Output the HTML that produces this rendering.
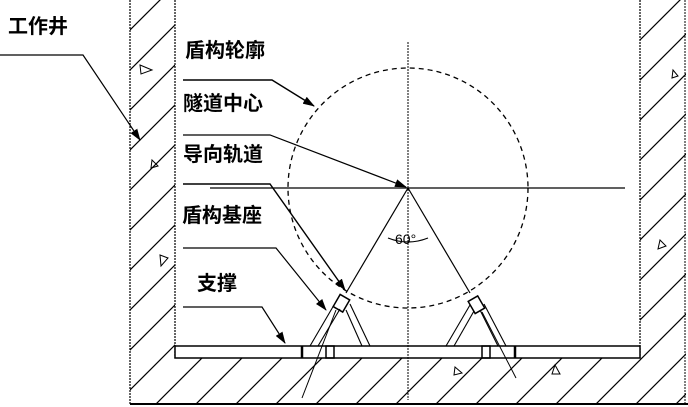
<!DOCTYPE html>
<html><head><meta charset="utf-8"><style>
html,body{margin:0;padding:0;background:#fff;}
svg{display:block;}
text{font-family:"Liberation Sans","Noto Sans CJK SC",sans-serif;font-size:20px;font-weight:bold;fill:#000;}
</style></head><body>
<svg width="688" height="407" viewBox="0 0 688 407" xmlns="http://www.w3.org/2000/svg">
<defs>
<pattern id="h" patternUnits="userSpaceOnUse" width="40" height="40">
<line x1="0" y1="40" x2="40" y2="0" stroke="#000" stroke-width="1.2"/>
<line x1="-10" y1="10" x2="10" y2="-10" stroke="#000" stroke-width="1.2"/>
<line x1="30" y1="50" x2="50" y2="30" stroke="#000" stroke-width="1.2"/>
</pattern>
<marker id="a" markerWidth="12" markerHeight="8" refX="11" refY="4" orient="auto" markerUnits="userSpaceOnUse">
<path d="M0,0 L12,4 L0,8 Z" fill="#000"/>
</marker>
</defs>
<path d="M130,0 H175 V358 H640 V0 H686 V404 H130 Z" fill="url(#h)"/>
<g stroke="#000" fill="none">
<line x1="130" y1="0" x2="130" y2="404" stroke-width="1.2" stroke-dasharray="2,1"/>
<line x1="175" y1="0" x2="175" y2="358" stroke-width="1.2" stroke-dasharray="2,1"/>
<line x1="640" y1="0" x2="640" y2="358" stroke-width="1.2" stroke-dasharray="2,1"/>
<line x1="685" y1="0" x2="685" y2="404" stroke-width="1" stroke-dasharray="2,1"/>
<line x1="130" y1="404" x2="688" y2="404" stroke-width="2"/>
<rect x="175" y="346" width="465" height="12" fill="#fff" stroke-width="1.5"/>
<line x1="302" y1="346" x2="302" y2="358" stroke-width="2.5"/>
<rect x="326" y="346" width="8" height="12" stroke-width="1.5"/>
<rect x="482" y="346" width="8" height="12" stroke-width="1.5"/>
<line x1="515" y1="346" x2="515" y2="358" stroke-width="2.5"/>
<!-- small triangles -->
<path d="M140,65 L152,70 L141,74 Z M152,160 L158,166 L151,168 Z M160,255 L168,258 L161,266 Z M455,367 L462,373 L454,375 Z M555,365 L560,374 L552,374 Z M660,240 L666,246 L658,249 Z M673,70 L678,76 L672,78 Z" stroke-width="1"/>
<circle cx="408" cy="188" r="120" stroke-width="1.3" stroke-dasharray="5,4"/>
<line x1="408" y1="42" x2="408" y2="400" stroke-width="1" stroke-dasharray="2,1"/>
<line x1="210" y1="188" x2="625" y2="188" stroke-width="1.3"/>
<line x1="408" y1="188" x2="346" y2="293" stroke-width="1.2"/>
<line x1="408" y1="188" x2="470" y2="293" stroke-width="1.2"/>
<path d="M388,238 Q408,246 428,238" stroke-width="1.2"/>
<g transform="rotate(30 341 303)"><rect x="336" y="296" width="11" height="14" stroke-width="1.5"/></g>
<line x1="334" y1="305" x2="310" y2="346" stroke-width="1.1"/>
<line x1="340" y1="309" x2="318" y2="346" stroke-width="1.1"/>
<line x1="346" y1="310" x2="362" y2="346" stroke-width="1.1"/>
<line x1="350" y1="304" x2="370" y2="346" stroke-width="1.1"/>
<line x1="336" y1="310" x2="302" y2="398" stroke-width="1"/>
<g transform="rotate(-30 476 305)"><rect x="471" y="298" width="11" height="14" stroke-width="1.5"/></g>
<line x1="470" y1="305" x2="446" y2="346" stroke-width="1.1"/>
<line x1="474" y1="311" x2="454" y2="346" stroke-width="1.1"/>
<line x1="480" y1="310" x2="498" y2="346" stroke-width="1.1"/>
<line x1="484" y1="304" x2="506" y2="346" stroke-width="1.1"/>
<line x1="482" y1="312" x2="516" y2="378" stroke-width="1"/>
<polyline points="0,55 83,55 140,140" stroke-width="1.2" marker-end="url(#a)"/>
<polyline points="183,80 272,80 314,106" stroke-width="1.4" marker-end="url(#a)"/>
<polyline points="183,135 270,135 406,187" stroke-width="1.2" marker-end="url(#a)"/>
<polyline points="183,184 270,184 345,290" stroke-width="1.4" marker-end="url(#a)"/>
<polyline points="183,248 276,248 326,310" stroke-width="1.2" marker-end="url(#a)"/>
<polyline points="183,307 262,307 285,343" stroke-width="1.2" marker-end="url(#a)"/>
</g>
<text x="8" y="33">工作井</text>
<text x="185" y="57">盾构轮廓</text>
<text x="183" y="110">隧道中心</text>
<text x="183" y="161">导向轨道</text>
<text x="182" y="222">盾构基座</text>
<text x="197" y="290">支撑</text>
<text x="395" y="244" style="font-size:14px;font-weight:normal">60°</text>
</svg>
</body></html>
